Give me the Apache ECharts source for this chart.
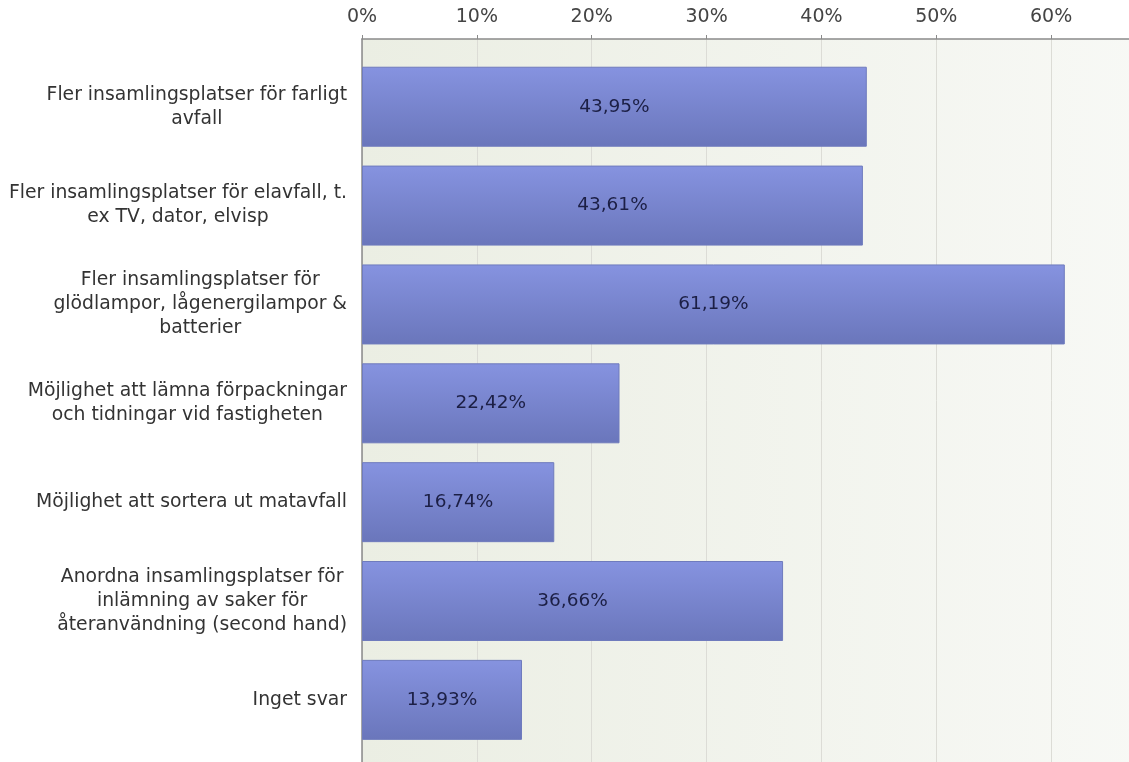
<!DOCTYPE html>
<html>
<head>
<meta charset="utf-8">
<script src="https://cdn.jsdelivr.net/npm/echarts@6/dist/echarts.min.js"></script>
<style>html,body{margin:0;padding:0;background:#fff;}#c{width:1129px;height:762px;}</style>
</head>
<body>
<div id="c"></div>
<script>
const categories = [
  "Fler insamlingsplatser för farligt\navfall",
  "Fler insamlingsplatser för elavfall, t.\nex TV, dator, elvisp",
  "Fler insamlingsplatser för\nglödlampor, lågenergilampor &\nbatterier",
  "Möjlighet att lämna förpackningar\noch tidningar vid fastigheten",
  "Möjlighet att sortera ut matavfall",
  "Anordna insamlingsplatser för\ninlämning av saker för\nåteranvändning (second hand)",
  "Inget svar"
];
const values = [43.95, 43.61, 61.19, 22.42, 16.74, 36.66, 13.93];
const tickLabels = ["0%", "10%", "20%", "30%", "40%", "50%", "60%"];

const chart = echarts.init(document.getElementById('c'), null, {renderer: 'canvas'});
const FONT = '"DejaVu Sans", Verdana, sans-serif';
const AX_MAX = 70;
const GRID_W = 804;
chart.setOption({
  animation: false,
  backgroundColor: '#ffffff',
  grid: [
    {left: 362, top: 39, width: GRID_W, bottom: 0, show: true, borderWidth: 0, borderColor: 'transparent',
     containLabel: false, outerBoundsMode: 'none',
     backgroundColor: new echarts.graphic.LinearGradient(0, 0, 1, 0, [
       {offset: 0, color: '#ebeee3'}, {offset: 1, color: '#f8f9f6'}])},
    {left: 362, top: 57.3, width: GRID_W, height: 692, containLabel: false, outerBoundsMode: 'none'}
  ],
  xAxis: [
    {gridIndex: 0, type: 'value', position: 'top', min: 0, max: AX_MAX, interval: 10,
     axisLine: {show: true, onZero: false, lineStyle: {color: '#8a8a8a', width: 1.5}},
     axisTick: {show: true, length: 4, lineStyle: {color: '#8a8a8a'}},
     axisLabel: {show: true, margin: 12, color: '#444', fontSize: 19, fontFamily: FONT,
       formatter: function (v) { return tickLabels[Math.round(v / 10)] || ''; }},
     splitLine: {show: true, lineStyle: {color: '#dcdcd6', width: 1}}},
    {gridIndex: 1, type: 'value', min: 0, max: AX_MAX, show: false}
  ],
  yAxis: [
    {gridIndex: 0, type: 'value', min: 0, max: 1, axisLabel: {show: false},
     axisTick: {show: false}, splitLine: {show: false},
     axisLine: {show: true, onZero: false, lineStyle: {color: '#8a8a8a', width: 1.5}}},
    {gridIndex: 1, type: 'category', data: categories, inverse: true,
     axisLine: {show: false}, axisTick: {show: false},
     axisLabel: {margin: 15, color: '#333', fontSize: 18.8, fontFamily: FONT, lineHeight: 24,
       formatter: function (v) { return '{a|' + v.split('\n').join('}\n{a|') + '}'; },
       rich: {a: {align: 'center', fontSize: 18.8, lineHeight: 24, color: '#333', fontFamily: FONT}}}}
  ],
  series: [{
    type: 'bar', xAxisIndex: 1, yAxisIndex: 1, data: values, barWidth: 80,
    itemStyle: {
      color: new echarts.graphic.LinearGradient(0, 0, 0, 1, [
        {offset: 0, color: '#8693e0'}, {offset: 1, color: '#6a76bb'}]),
      borderColor: '#6f7bbd', borderWidth: 1
    },
    label: {show: true, position: 'inside', color: '#1c1f45', fontSize: 18.5, fontFamily: FONT,
      formatter: function (p) { return p.value.toFixed(2).replace('.', ',') + '%'; }}
  }]
});
</script>
</body>
</html>
